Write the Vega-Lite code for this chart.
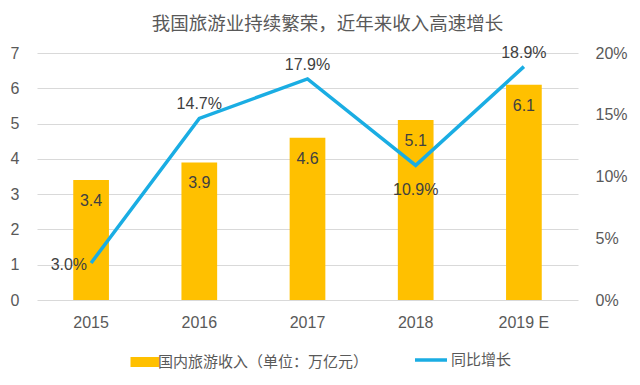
{
  "$schema": "https://vega.github.io/schema/vega-lite/v6.json",
  "width": 541,
  "height": 247,
  "autosize": {"type": "none"},
  "padding": {"left": 37, "top": 53, "right": 62, "bottom": 85},
  "background": "white",
  "title": {
    "text": "我国旅游业持续繁荣，近年来收入高速增长",
    "font": "Noto Sans CJK SC",
    "fontSize": 18.5,
    "fontWeight": "normal",
    "color": "#595959",
    "anchor": "middle",
    "dx": 20,
    "offset": 11
  },
  "config": {
    "view": {"stroke": null},
    "font": "Noto Sans CJK SC",
    "axis": {
      "labelFont": "Liberation Sans",
      "labelFontSize": 16,
      "labelColor": "#595959",
      "domain": false,
      "ticks": false,
      "title": null,
      "gridColor": "#d9d9d9",
      "gridWidth": 1
    }
  },
  "data": {
    "values": [
      {"year": "2015", "income": 3.4, "growth": 0.030},
      {"year": "2016", "income": 3.9, "growth": 0.147},
      {"year": "2017", "income": 4.6, "growth": 0.179},
      {"year": "2018", "income": 5.1, "growth": 0.109},
      {"year": "2019 E", "income": 6.1, "growth": 0.189}
    ]
  },
  "encoding": {
    "x": {
      "field": "year",
      "type": "nominal",
      "sort": null,
      "scale": {"paddingInner": 0.67, "paddingOuter": 0.335},
      "axis": {"labelAngle": 0, "labelPadding": 14, "grid": false}
    }
  },
  "layer": [
    {
      "layer": [
        {
          "mark": {"type": "bar"},
          "encoding": {
            "y": {
              "field": "income",
              "type": "quantitative",
              "scale": {"domain": [0, 7]},
              "axis": {"tickCount": 7, "labelPadding": 18, "grid": true}
            },
            "fill": {
              "datum": "国内旅游收入（单位：万亿元）",
              "type": "nominal",
              "scale": {"range": ["#FFC000"]},
              "legend": {
                "title": null,
                "orient": "none",
                "legendX": 98,
                "legendY": 299,
                "symbolType": "M-1.45,-0.5H1.45V0.5H-1.45Z",
                "symbolSize": 400,
                "symbolStrokeWidth": 0,
                "labelFont": "Noto Sans CJK SC",
                "labelFontSize": 15,
                "labelColor": "#595959",
                "labelOffset": 3,
                "labelLimit": 400
              }
            }
          }
        },
        {
          "mark": {"type": "text", "dy": 21, "fontSize": 16, "color": "#404040", "font": "Liberation Sans"},
          "encoding": {
            "y": {"field": "income", "type": "quantitative", "scale": {"domain": [0, 7]}},
            "text": {"field": "income", "type": "quantitative", "format": ".1f"}
          }
        }
      ]
    },
    {
      "layer": [
        {
          "mark": {"type": "line", "strokeWidth": 3.5, "color": "#1AADE3"},
          "encoding": {
            "y": {
              "field": "growth",
              "type": "quantitative",
              "scale": {"domain": [0, 0.2]},
              "axis": {"orient": "right", "format": ".0%", "values": [0, 0.05, 0.1, 0.15, 0.2], "labelOverlap": false, "labelPadding": 17, "grid": false}
            },
            "stroke": {
              "datum": "同比增长",
              "type": "nominal",
              "scale": {"range": ["#1AADE3"]},
              "legend": {
                "title": null,
                "orient": "none",
                "legendX": 376,
                "legendY": 289,
                "symbolType": "stroke",
                "symbolSize": 1024,
                "symbolStrokeWidth": 3.5,
                "labelFont": "Noto Sans CJK SC",
                "labelFontSize": 15,
                "labelColor": "#595959",
                "labelOffset": 2,
                "labelLimit": 400
              }
            }
          }
        },
        {
          "transform": [{"filter": "datum.year == '2015'"}],
          "mark": {"type": "text", "align": "right", "dx": -4, "dy": 2, "fontSize": 16, "color": "#404040", "font": "Liberation Sans"},
          "encoding": {
            "y": {"field": "growth", "type": "quantitative", "scale": {"domain": [0, 0.2]}},
            "text": {"field": "growth", "type": "quantitative", "format": ".1%"}
          }
        },
        {
          "transform": [{"filter": "datum.year == '2016' || datum.year == '2017' || datum.year == '2019 E'"}],
          "mark": {"type": "text", "dy": -14, "fontSize": 16, "color": "#404040", "font": "Liberation Sans"},
          "encoding": {
            "y": {"field": "growth", "type": "quantitative", "scale": {"domain": [0, 0.2]}},
            "text": {"field": "growth", "type": "quantitative", "format": ".1%"}
          }
        },
        {
          "transform": [{"filter": "datum.year == '2018'"}],
          "mark": {"type": "text", "dy": 25, "fontSize": 16, "color": "#404040", "font": "Liberation Sans"},
          "encoding": {
            "y": {"field": "growth", "type": "quantitative", "scale": {"domain": [0, 0.2]}},
            "text": {"field": "growth", "type": "quantitative", "format": ".1%"}
          }
        }
      ]
    }
  ],
  "resolve": {"scale": {"y": "independent"}}
}
